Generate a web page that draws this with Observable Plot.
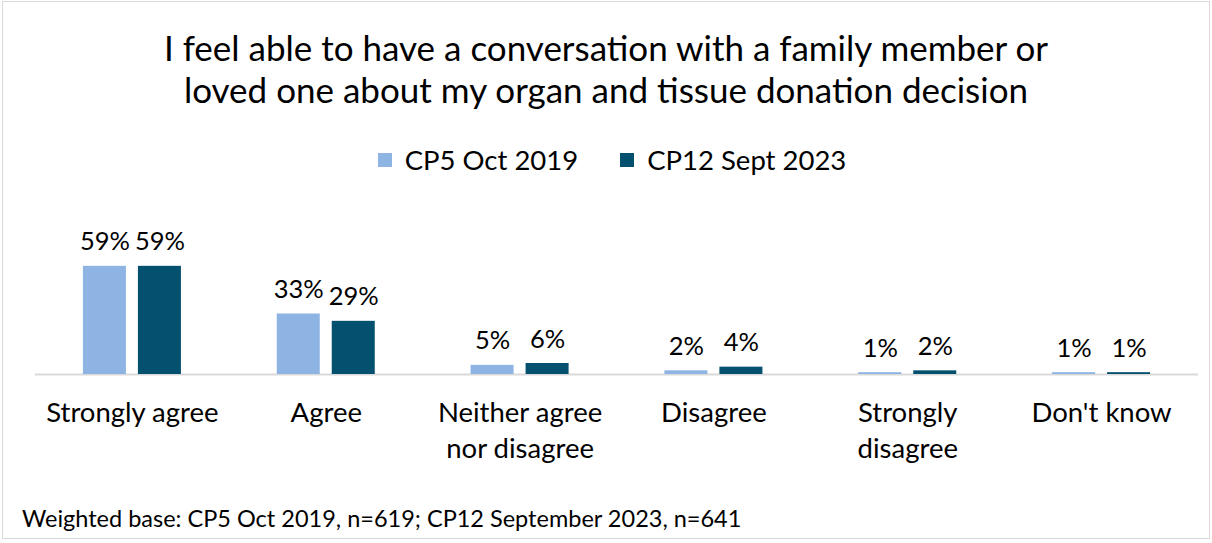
<!DOCTYPE html>
<html>
<head>
<meta charset="utf-8">
<script src="https://cdn.jsdelivr.net/npm/d3@7"></script>
<script src="https://cdn.jsdelivr.net/npm/@observablehq/plot@0.6"></script>
<style>
  html, body { margin: 0; padding: 0; background: #fff; }
  body { position: relative; width: 1212px; height: 543px; overflow: hidden; font-family: Lato, "Open Sans", sans-serif; color: #000; }
  #frame { position: absolute; left: 2px; top: 1px; width: 1206px; height: 536px; border: 1px solid #d9d9d9; box-sizing: content-box; }
  #title { position: absolute; left: 0; top: 26px; width: 1212px; text-align: center; font-size: 35px; line-height: 42px; }
  #legend { position: absolute; left: 6px; top: 144px; width: 1212px; display: flex; justify-content: center; gap: 42px; font-size: 27.5px; line-height: 32px; }
  #legend .item { display: flex; align-items: center; gap: 13px; }
  #legend .sw { width: 14px; height: 14px; display: inline-block; }
  #chart { position: absolute; left: 0; top: 190px; }
  #note { position: absolute; left: 22px; top: 504px; font-size: 23.5px; line-height: 28px; }
</style>
</head>
<body>
<div id="frame"></div>
<div id="title">I feel able to have a conversation with a family member or<br>loved one about my organ and tissue donation decision</div>
<div id="legend"></div>
<div id="chart"></div>
<div id="note">Weighted base: CP5 Oct 2019, n=619; CP12 September 2023, n=641</div>
<script>
const categories = ["Strongly agree", "Agree", "Neither agree nor disagree", "Disagree", "Strongly disagree", "Don't know"];
const categoryLabels = ["Strongly agree", "Agree", "Neither agree\nnor disagree", "Disagree", "Strongly\ndisagree", "Don't know"];
const series = ["CP5 Oct 2019", "CP12 Sept 2023"];
const values2019 = [59, 33, 5, 2, 1, 1];
const values2023 = [59, 29, 6, 4, 2, 1];
const colors = ["#8EB4E3", "#03506F"];

const data = [];
categories.forEach((c, i) => {
  data.push({category: c, series: series[0], value: values2019[i]});
  data.push({category: c, series: series[1], value: values2023[i]});
});
const labelOf = new Map(categories.map((c, i) => [c, categoryLabels[i]]));

// legend
const legend = document.getElementById("legend");
series.forEach((s, i) => {
  const item = document.createElement("div");
  item.className = "item";
  const sw = document.createElement("span");
  sw.className = "sw";
  sw.style.background = colors[i];
  const t = document.createElement("span");
  t.textContent = s;
  item.appendChild(sw);
  item.appendChild(t);
  legend.appendChild(item);
});

const chart = Plot.plot({
  width: 1212,
  height: 290,
  marginLeft: 35,
  marginRight: 14,
  marginTop: 74,
  marginBottom: 106,
  style: {fontFamily: "Lato, 'Open Sans', sans-serif", color: "#000", background: "transparent"},
  fx: {domain: categories, paddingInner: 0.4944, paddingOuter: 0.2472, round: false, label: null},
  x: {domain: series, paddingInner: 0.218, paddingOuter: 0, round: false, axis: null},
  y: {domain: [0, 60], axis: null},
  color: {domain: series, range: colors},
  marks: [
    Plot.ruleY([0], {stroke: "#d9d9d9", strokeWidth: 2, insetLeft: -48, insetRight: -48}),
    Plot.barY(data, {fx: "category", x: "series", y: "value", fill: "series"}),
    Plot.text(data, {fx: "category", x: "series", y: "value", text: d => d.value + "%", dy: -16, lineAnchor: "bottom", fontSize: 25.5, fill: "#000"}),
    Plot.axisFx({anchor: "bottom", tickSize: 0, tickPadding: 22, fontSize: 27.5, lineHeight: 1.3, tickFormat: d => labelOf.get(d), label: null, fill: "#000"})
  ]
});
document.getElementById("chart").appendChild(chart);
</script>
</body>
</html>
